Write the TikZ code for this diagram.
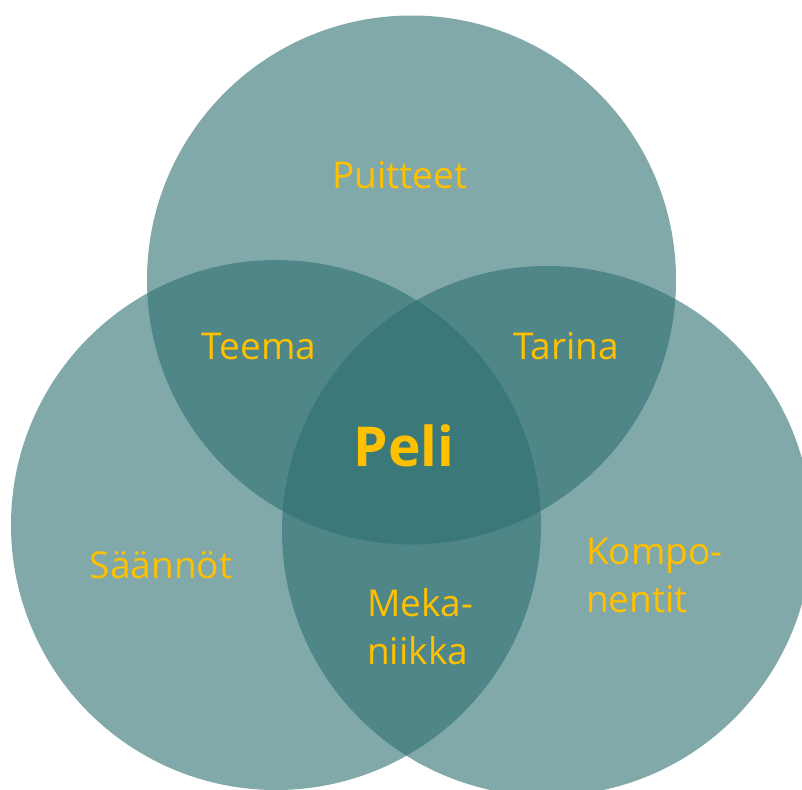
\documentclass[tikz,border=0pt]{standalone}
\usepackage{fontspec}
\setmainfont{Open Sans}
\definecolor{teal}{RGB}{45,111,113}
\definecolor{gold}{RGB}{255,192,0}
\begin{document}
\begin{tikzpicture}[x=1pt,y=-1pt,
  venn/.style={fill=teal,fill opacity=0.6,draw=none},
  lbl/.style={text=gold,font=\fontsize{37}{48}\selectfont,anchor=base,inner sep=0pt}]
\useasboundingbox (0,0) rectangle (802,789);
\clip (0,0) rectangle (802,789);
\fill[venn] (411.5,280) circle[radius=264.5];
\fill[venn] (276,525) circle[radius=265];
\fill[venn] (547,531) circle[radius=265];
\node[lbl] (puitteet) at (400,188) {Puitteet};
\node[lbl] (teema) at (259,359) {Teema};
\node[lbl] (tarina) at (566,359) {Tarina};
\node[lbl] (saannot) at (161,578) {Säännöt};
\node[lbl,font=\bfseries\fontsize{55}{60}\selectfont] (peli) at (404,466) {Peli};
\node[lbl,align=left,anchor=base west] (komp) at (586,612) {Kompo-\\nentit};
\node[lbl,align=left,anchor=base west] (meka) at (367,664) {Meka-\\niikka};
\end{tikzpicture}
\end{document}
